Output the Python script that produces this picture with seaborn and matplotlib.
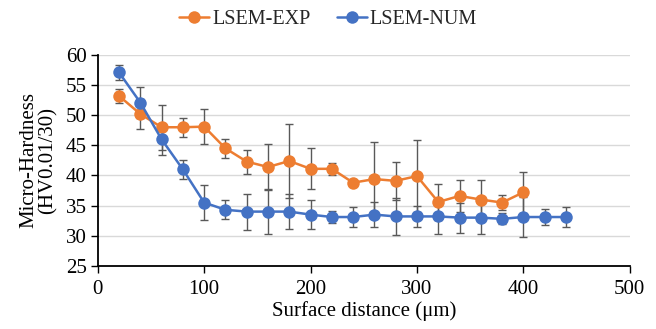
import numpy as np
import pandas as pd
import seaborn as sns
import matplotlib.pyplot as plt

sns.set_theme(style="white")
plt.rcParams['font.family'] = ['Liberation Serif', 'DejaVu Serif']

# distances (um)
x_exp = [20, 40, 60, 80, 100, 120, 140, 160, 180, 200, 220, 240, 260, 280, 300, 320, 340, 360, 380, 400]
x_num = [20, 40, 60, 80, 100, 120, 140, 160, 180, 200, 220, 240, 260, 280, 300, 320, 340, 360, 380, 400, 420, 440]

# micro-hardness and error bars
hv_exp = [53.2, 50.2, 48.0, 48.0, 48.1, 44.5, 42.3, 41.4, 42.4, 41.1, 41.1, 38.8, 39.4, 39.1, 39.9, 35.6, 36.6, 36.0, 35.5, 37.2]
err_exp = [1.2, 2.5, 3.7, 1.6, 2.9, 1.6, 2.0, 3.8, 6.2, 3.4, 1.0, 0.5, 6.2, 3.2, 6.0, 3.0, 2.7, 3.2, 1.3, 3.4]
hv_num = [57.1, 52.1, 46.0, 41.0, 35.5, 34.3, 34.0, 34.0, 34.0, 33.5, 33.1, 33.1, 33.5, 33.2, 33.2, 33.2, 33.0, 33.0, 32.8, 33.1, 33.1, 33.1]
err_num = [1.2, 2.5, 2.6, 1.6, 2.9, 1.6, 3.0, 3.7, 2.9, 2.4, 1.0, 1.7, 2.1, 3.1, 1.8, 2.9, 2.5, 2.8, 0.9, 3.3, 1.4, 1.6]

series = ['LSEM-EXP', 'LSEM-NUM']
colors = {'LSEM-EXP': '#ED7D31', 'LSEM-NUM': '#4472C4'}

d = pd.concat([
    pd.DataFrame({'x': x_exp, 'hv': hv_exp, 'err': err_exp, 'series': series[0]}),
    pd.DataFrame({'x': x_num, 'hv': hv_num, 'err': err_num, 'series': series[1]}),
])

fig, ax = plt.subplots(figsize=(6.56, 3.29), dpi=100)
fig.subplots_adjust(left=0.149, right=0.960, bottom=0.192, top=0.833)

# error bars first, behind the markers
for s in series:
    sub = d[d.series == s]
    ax.errorbar(sub.x, sub.hv, yerr=sub.err, fmt='none', ecolor='#595959',
                elinewidth=1.0, capsize=3, capthick=1.0, zorder=1)

sns.lineplot(data=d, x='x', y='hv', hue='series', palette=colors, marker='o',
             markersize=9, markeredgewidth=0, linewidth=1.8, ax=ax, zorder=3)

ax.set_xlim(0, 500)
ax.set_ylim(25, 60)
ax.set_xticks(range(0, 501, 100))
ax.set_yticks(range(25, 61, 5))
ax.yaxis.grid(True, color='#D9D9D9', linewidth=1.0)
ax.set_axisbelow(True)
for sp in ['top', 'right']:
    ax.spines[sp].set_visible(False)
for sp in ['left', 'bottom']:
    ax.spines[sp].set_color('black')
    ax.spines[sp].set_linewidth(1.3)
ax.tick_params(axis='both', direction='out', length=5, width=1.0, color='black',
               labelsize=15, colors='black', bottom=True, left=True)
ax.tick_params(axis='x', pad=5)
ax.tick_params(axis='y', pad=3)

ax.set_xlabel('Surface distance (μm)', fontsize=15, color='black', labelpad=2)
ax.set_ylabel('Micro-Hardness\n(HV0.01/30)', fontsize=15, color='black', labelpad=6, linespacing=0.95)

h, l = ax.get_legend_handles_labels()
ax.legend_.remove()
fig.legend(h, l, loc='center', bbox_to_anchor=(0.5, 0.94), ncol=2, frameon=False,
           fontsize=14.5, handlelength=1.5, handletextpad=0.15, columnspacing=1.3)

plt.savefig('out.png', dpi=100)
